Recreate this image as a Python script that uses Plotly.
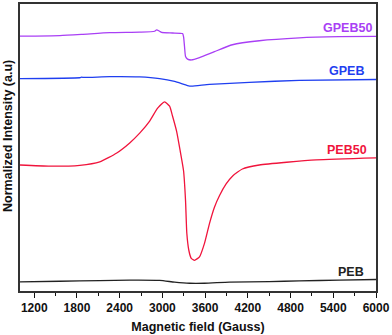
import plotly.graph_objs as go

# magnetic field (Gauss) and normalized intensity
gpeb50_x = [1000, 1560, 1868, 2261, 2681, 2891, 2919, 2961, 2989, 3143, 3283, 3297,
            3311, 3325, 3353, 3409, 3521, 3731, 3983, 4361, 4922, 5482, 6000]
gpeb50_y = [88.8, 89.0, 89.4, 90.0, 90.2, 90.5, 91.0, 90.5, 90.1, 89.9, 89.7, 88.6,
            85.1, 81.7, 80.8, 80.5, 81.3, 83.4, 85.8, 87.2, 88.2, 88.6, 88.7]

gpeb_x = [1000, 1840, 1868, 1896, 2261, 2681, 2961, 3171, 3353, 3409, 3661, 4221, 4922, 6000]
gpeb_y = [74.0, 74.3, 74.5, 74.4, 74.7, 74.6, 74.0, 73.0, 71.6, 71.4, 72.0, 72.7, 73.4, 73.7]

peb50_x = [1000, 1420, 1840, 2120, 2359, 2541, 2681, 2821, 2933, 3031, 3101, 3143, 3199,
           3250, 3297, 3325, 3343, 3371, 3405, 3451, 3521, 3591, 3661, 3731, 3801, 3895,
           3987, 4123, 4361, 5160, 6000]
peb50_y = [43.9, 43.5, 43.8, 45.0, 48.1, 51.6, 55.0, 59.2, 63.7, 65.9, 64.4, 60.9, 55.7,
           48.8, 41.9, 31.5, 20.1, 14.2, 11.4, 10.7, 11.9, 16.6, 23.5, 29.2, 33.2, 37.3,
           40.1, 42.5, 43.9, 45.7, 46.4]

peb_x = [1000, 1560, 2120, 2541, 2961, 3171, 3381, 3591, 3941, 4501, 4922, 5482, 6000]
peb_y = [3.2, 3.4, 3.6, 3.8, 3.7, 3.1, 2.7, 2.7, 3.1, 3.3, 3.5, 3.8, 4.0]

tick_vals = [1200, 1800, 2400, 3000, 3600, 4200, 4800, 5400, 6000]

FONT = 'Arial, Liberation Sans, sans-serif'

series = [
    ('GPEB50', gpeb50_x, gpeb50_y, '#a93ff5', 5972, 91.7),
    ('GPEB', gpeb_x, gpeb_y, '#1f3ff0', 5860, 76.5),
    ('PEB50', peb50_x, peb50_y, '#f0143c', 5902, 49.1),
    ('PEB', peb_x, peb_y, '#222222', 5860, 6.6),
]

data = []
annotations = []
for name, xs, ys, color, lx, ly in series:
    data.append(go.Scatter(
        x=xs, y=ys, name=name, mode='lines',
        line=dict(color=color, width=1.3, shape='spline', smoothing=0.5)
    ))
    annotations.append(dict(
        x=lx, y=ly, xref='x', yref='y', text=name, showarrow=False,
        xanchor='right', yanchor='middle',
        font=dict(family=FONT, size=12.5, color=color, weight='bold')
    ))

annotations.append(dict(
    x=-0.034, y=0.54, xref='paper', yref='paper', text='Normalized Intensity (a.u)',
    showarrow=False, textangle=-90, xanchor='center', yanchor='middle',
    font=dict(family=FONT, size=12.5, color='#111', weight='bold')
))

layout = go.Layout(
    autosize=False,
    width=392,
    height=335,
    margin=dict(l=20, r=15, t=2, b=44),
    plot_bgcolor='#FFFFFF',
    paper_bgcolor='#FFFFFF',
    showlegend=False,
    annotations=annotations,
    font=dict(family=FONT, color='#111'),
)

fig = go.Figure(data=data, layout=layout)
fig.update_xaxes(
    range=[1000, 6000], tickvals=tick_vals, ticks='outside', ticklen=5, tickwidth=1.2,
    tickcolor='#111', showgrid=False, zeroline=False, showline=True, linecolor='#333',
    linewidth=1.5, mirror=True,
    tickfont=dict(family=FONT, size=12, color='#111', weight='bold'),
    minor=dict(dtick=300, tick0=0, ticks='outside', ticklen=3, tickcolor='#111'),
    title=dict(text='Magnetic field (Gauss)', standoff=8,
               font=dict(family=FONT, size=12.5, color='#111', weight='bold')),
)
fig.update_yaxes(
    range=[0, 100], showticklabels=False, ticks='', showgrid=False, zeroline=False,
    showline=True, linecolor='#333', linewidth=1.5, mirror=True,
)

fig.write_html("out.html", config={'displayModeBar': False},
               post_script="document.body.style.margin='0';")
